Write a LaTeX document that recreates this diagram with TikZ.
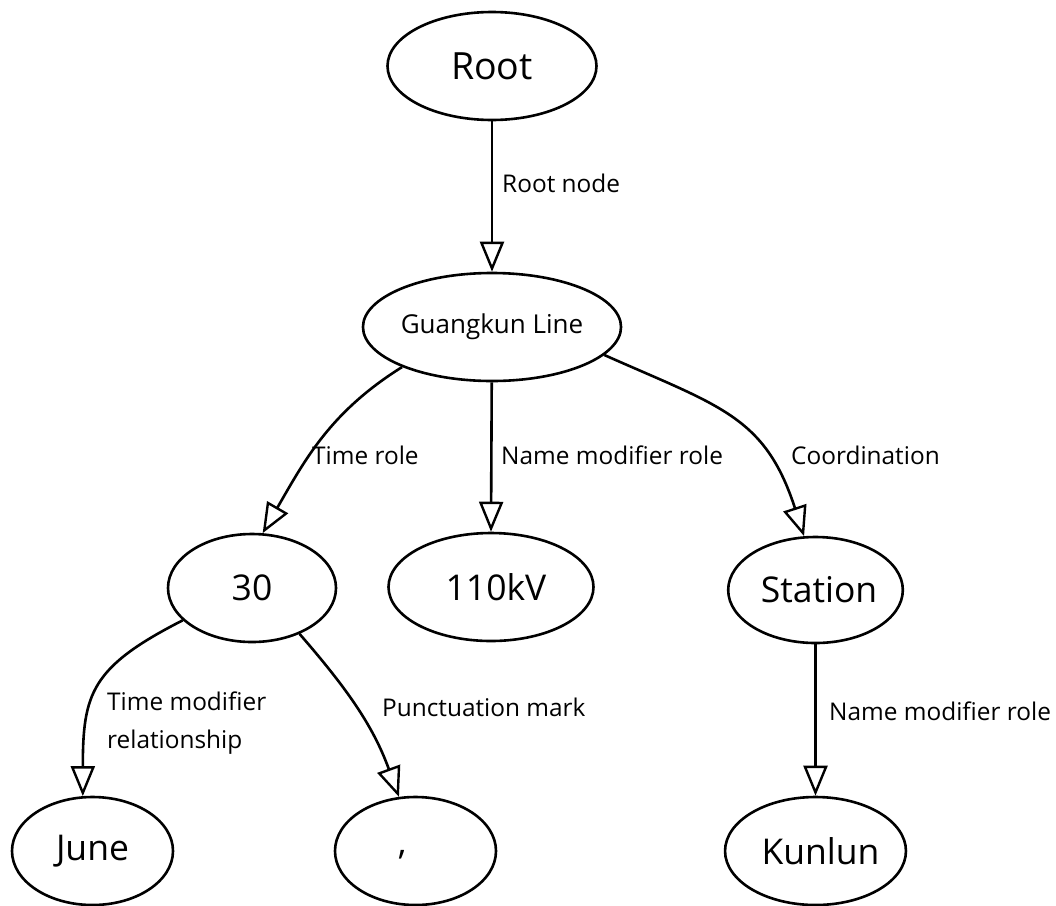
\documentclass[tikz,border=0pt]{standalone}
\usepackage{fontspec}
\setmainfont{Open Sans}
\usetikzlibrary{shapes.geometric,arrows.meta}
\begin{document}
\begin{tikzpicture}[x=1pt,y=1pt,
  ell/.style={draw=black,line width=2.6pt,ellipse,inner sep=0pt,font=\fontsize{35.5}{40}\selectfont},
  lbl/.style={anchor=west,inner sep=0pt,font=\fontsize{24.4}{38}\selectfont,align=left},
  conn/.style={draw=black,line width=2.6pt,-{Triangle[open,length=30pt,width=24pt,line width=2.4pt]}}]
\useasboundingbox (0,0) rectangle (1056,-905);
\node[ell,minimum width=209pt,minimum height=108pt,font=\fontsize{37.5}{42}\selectfont] (root) at (492,-66) {Root};
\node[ell,minimum width=226pt,minimum height=108pt,font=\fontsize{26}{30}\selectfont] (gk) at (492,-327) {Guangkun Line};
\node[ell,minimum width=168pt,minimum height=108pt] (n30) at (252,-588) {30};
\node[ell,minimum width=205pt,minimum height=108pt] (kv) at (491,-587) {\hspace*{10pt}110kV};
\node[ell,minimum width=162pt,minimum height=106pt] (st) at (815.5,-590) {\hspace*{7pt}Station};
\node[ell,minimum width=161pt,minimum height=108pt] (june) at (92.5,-851) {June};
\node[ell,minimum width=161pt,minimum height=108pt] (comma) at (415.5,-851) {\vphantom{0}\makebox[0pt][r]{\raisebox{9pt}{,}\hspace{9pt}}};
\node[ell,minimum width=177pt,minimum height=108pt] (kun) at (815.5,-851) {\hspace*{10pt}Kunlun};

\node[lbl] (l1) at (502,-183) {Root node};
\node[lbl] (l2) at (312,-455) {Time role};
\node[lbl] (l3) at (501,-455) {Name modifier role};
\node[lbl] (l4) at (791,-455) {Coordination};
\node[lbl,anchor=north west] (l5) at (107,-692) {Time modifier\\relationship};
\node[lbl] (l6) at (382,-707) {Punctuation mark};
\node[lbl] (l7) at (829,-711) {Name modifier role};

\draw[conn] (root) -- (gk);
\draw[conn] (gk) -- (kv.north);
\draw[conn] (gk.204) to[out=212,in=60] (n30.79);
\draw[conn] (gk.-14) to[out=-24,in=108,looseness=1.2] (st.102);
\draw[conn] (st) -- (kun);
\draw[conn] (n30.205) to[out=207,in=90,looseness=1.3] (june.100);
\draw[conn] (n30.-44) to[out=-49,in=110] (comma.107);
\end{tikzpicture}
\end{document}
